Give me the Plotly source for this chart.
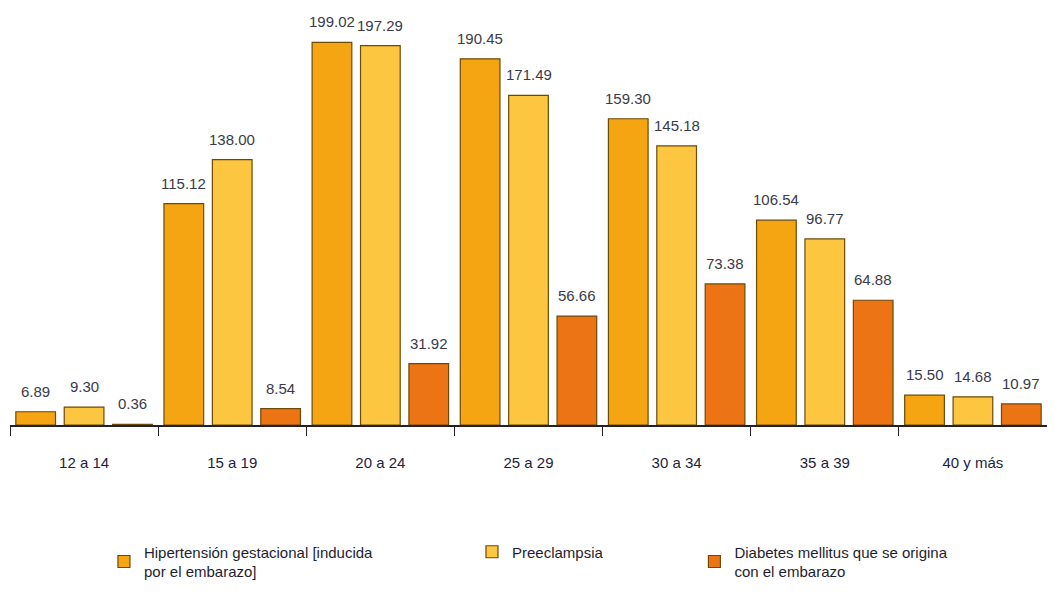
import plotly.graph_objects as go

categories = ["12 a 14", "15 a 19", "20 a 24", "25 a 29", "30 a 34", "35 a 39", "40 y más"]
hipertension = [6.89, 115.12, 199.02, 190.45, 159.30, 106.54, 15.50]
preeclampsia = [9.30, 138.00, 197.29, 171.49, 145.18, 96.77, 14.68]
diabetes = [0.36, 8.54, 31.92, 56.66, 73.38, 64.88, 10.97]
series_names = ["Hipertensión gestacional [inducida<br>por el embarazo]", "Preeclampsia",
                "Diabetes mellitus que se origina<br>con el embarazo"]
colors = ["#F5A412", "#FDC641", "#EC7414"]

FONT = "Liberation Sans, Arial, sans-serif"

fig = go.Figure()
data = [hipertension, preeclampsia, diabetes]
legends = ["legend", "legend2", "legend3"]
slot_px = 48.4
for i, (name, vals, col, lg) in enumerate(zip(series_names, data, colors, legends)):
    fig.add_trace(go.Bar(
        x=categories, y=vals, name=name, showlegend=True,
        marker=dict(color=col, line=dict(color="#6b4a08", width=1.2)),
        legend=lg,
    ))
    for c, v in zip(categories, vals):
        fig.add_annotation(x=c, y=v, xref="x", yref="y", text=f"{v:.2f}",
                           showarrow=False, yanchor="bottom", xanchor="center",
                           xshift=(i - 1) * slot_px, yshift=10,
                           font=dict(family=FONT, size=15, color="#3a3a4a"))

leg_common = dict(orientation="h", yanchor="top", xanchor="left",
                  font=dict(family=FONT, size=15, color="#1e1e30"),
                  bgcolor="rgba(0,0,0,0)", itemwidth=30)
fig.update_layout(
    width=1039, height=580, showlegend=True,
    margin=dict(l=2, r=0, t=0, b=157),
    paper_bgcolor="white", plot_bgcolor="white",
    barmode="group", bargap=0.02, bargroupgap=0.18,
    legend=dict(x=0.0906, y=-0.265, **leg_common),
    legend2=dict(x=0.4455, y=-0.265, **leg_common),
    legend3=dict(x=0.66, y=-0.265, **leg_common),
    xaxis=dict(range=[-0.5, 6.5], showline=True, linecolor="#222222", linewidth=1.5,
               ticks="outside", tickson="boundaries", ticklen=9, tickcolor="#222222",
               tickfont=dict(family=FONT, size=15, color="#1e1e40"),
               ticklabelstandoff=23, showgrid=False, automargin=False),
    yaxis=dict(range=[0, 216.9], visible=False, showgrid=False, automargin=False),
)
fig.write_html("out.html")
